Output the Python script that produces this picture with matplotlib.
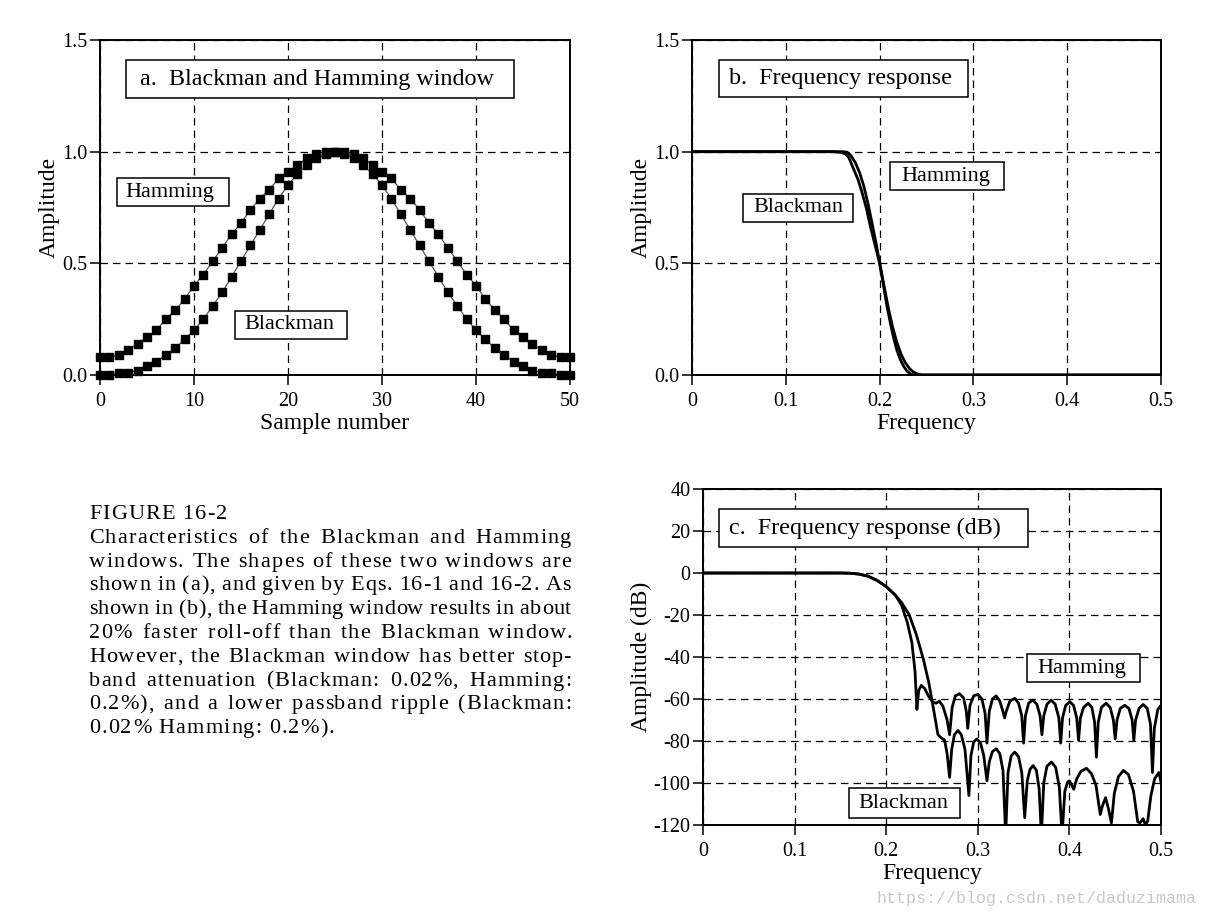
import numpy as np
import matplotlib
matplotlib.use("Agg")
import matplotlib.pyplot as plt
from matplotlib.patches import Rectangle

plt.rcParams['font.family'] = ['Liberation Serif', 'DejaVu Serif']
plt.rcParams['axes.unicode_minus'] = False

W, H = 1206, 918

# ---- panel a: window samples ----
sample = list(range(51))
hamming_win = [0.08, 0.08, 0.09, 0.11, 0.14, 0.17, 0.20, 0.25, 0.29, 0.34,
               0.40, 0.45, 0.51, 0.57, 0.63, 0.68, 0.74, 0.79, 0.83, 0.88,
               0.91, 0.94, 0.97, 0.99, 1.00, 1.00, 1.00, 0.99, 0.97, 0.94,
               0.91, 0.88, 0.83, 0.79, 0.74, 0.68, 0.63, 0.57, 0.51, 0.45,
               0.40, 0.34, 0.29, 0.25, 0.20, 0.17, 0.14, 0.11, 0.09, 0.08,
               0.08]
blackman_win = [0.00, 0.00, 0.01, 0.01, 0.02, 0.04, 0.06, 0.09, 0.12, 0.16,
                0.20, 0.25, 0.31, 0.37, 0.44, 0.51, 0.58, 0.65, 0.72, 0.79,
                0.85, 0.90, 0.94, 0.97, 0.99, 1.00, 0.99, 0.97, 0.94, 0.90,
                0.85, 0.79, 0.72, 0.65, 0.58, 0.51, 0.44, 0.37, 0.31, 0.25,
                0.20, 0.16, 0.12, 0.09, 0.06, 0.04, 0.02, 0.01, 0.01, 0.00,
                0.00]

# ---- panel b: linear frequency response ----
blackman_f_lin = [0.0, 0.150, 0.156, 0.160, 0.1634, 0.167, 0.1723, 0.1770, 0.1812,
                  0.1860, 0.190, 0.195, 0.200, 0.2040, 0.2078, 0.2115, 0.2149,
                  0.2185, 0.222, 0.2255, 0.2291, 0.2330, 0.2362, 0.5]
blackman_lin = [1.0, 1.0, 0.998, 0.995, 0.99, 0.975, 0.922, 0.875, 0.818,
                0.745, 0.668, 0.585, 0.50, 0.405, 0.309, 0.232, 0.167,
                0.110, 0.070, 0.040, 0.018, 0.005, 0.0, 0.0]
hamming_f_lin = [0.0, 0.160, 0.165, 0.169, 0.174, 0.1785, 0.183, 0.1875, 0.1918,
                 0.196, 0.200, 0.2048, 0.2096, 0.2140, 0.2185, 0.2230, 0.2274,
                 0.2320, 0.2362, 0.2405, 0.2451, 0.5]
hamming_lin = [1.0, 1.0, 0.998, 0.985, 0.952, 0.908, 0.848, 0.770, 0.683,
               0.595, 0.504, 0.398, 0.294, 0.212, 0.145, 0.092, 0.055,
               0.028, 0.013, 0.004, 0.0, 0.0]

# ---- panel c: frequency response in dB ----
hamming_f_db = [0.000, 0.150, 0.160, 0.170, 0.180, 0.190, 0.200, 0.210, 0.217,
                0.223, 0.228, 0.2315, 0.2335, 0.2355, 0.2383, 0.242, 0.246,
                0.251, 0.2545, 0.258, 0.262, 0.2665, 0.2692, 0.272, 0.2755,
                0.280, 0.2845, 0.2875, 0.289, 0.2915, 0.2955, 0.300, 0.3045,
                0.308, 0.310, 0.3125, 0.316, 0.320, 0.324, 0.3275, 0.3293,
                0.331, 0.335, 0.3403, 0.3445, 0.348, 0.350, 0.352, 0.3555,
                0.360, 0.3645, 0.368, 0.370, 0.372, 0.3755, 0.380, 0.3845,
                0.3885, 0.3905, 0.3925, 0.396, 0.4004, 0.4045, 0.408, 0.410,
                0.412, 0.4155, 0.4204, 0.4245, 0.4275, 0.4295, 0.4315, 0.435,
                0.440, 0.4445, 0.448, 0.450, 0.452, 0.4555, 0.4605, 0.465,
                0.4685, 0.4703, 0.4723, 0.476, 0.4805, 0.485, 0.4885, 0.4907,
                0.4927, 0.4965, 0.500]
hamming_db = [0, 0, -0.1, -0.5, -1.5, -3.5, -6.5, -10.5, -15.5,
              -23.5, -33, -47, -65, -56, -53.5, -55, -58.5,
              -61.5, -62, -61, -63.5, -70, -77, -64, -58.5,
              -57.5, -59.5, -66, -74, -63, -58.5, -57.8, -60,
              -67, -81, -66, -60, -58.5, -61, -66, -69,
              -66, -61, -59.7, -62, -68, -81, -68, -62,
              -60.5, -62.5, -68, -77, -68, -62.5, -60.5, -62.5,
              -69, -81, -69, -63, -61.3, -63, -69, -79.7,
              -69, -64, -62, -64, -71, -87.7, -71, -64,
              -62, -64, -70, -79, -70, -64.5, -63, -64.5,
              -70, -79.7, -70, -64.5, -62.6, -64.5, -72, -95,
              -74, -65, -63]
blackman_f_db = [0.000, 0.150, 0.160, 0.170, 0.180, 0.190, 0.200, 0.2094, 0.217,
                 0.225, 0.2328, 0.2406, 0.2465, 0.2523, 0.2565, 0.260, 0.2637,
                 0.2665, 0.2692, 0.2715, 0.2745, 0.2783, 0.282, 0.286, 0.2903,
                 0.2925, 0.2955, 0.299, 0.303, 0.3065, 0.310, 0.3125, 0.316,
                 0.3202, 0.324, 0.3275, 0.3304, 0.333, 0.3365, 0.3403, 0.3445,
                 0.348, 0.3512, 0.354, 0.357, 0.3603, 0.364, 0.367, 0.3694,
                 0.372, 0.3755, 0.3803, 0.385, 0.389, 0.392, 0.395, 0.398,
                 0.400, 0.4025, 0.4047, 0.408, 0.4125, 0.4186, 0.424, 0.429,
                 0.4337, 0.436, 0.4395, 0.4425, 0.4459, 0.449, 0.4535, 0.459,
                 0.4645, 0.470, 0.4746, 0.477, 0.4805, 0.483, 0.4855, 0.489,
                 0.493, 0.4977, 0.500]
blackman_db = [0, 0, -0.1, -0.5, -1.5, -3.5, -6.5, -10.3, -14.2,
               -19.8, -29.2, -41.1, -52.2, -66.4, -77, -78.5, -79.5,
               -86, -97.3, -84, -77, -75, -77, -84, -106,
               -87, -80.5, -79, -81, -87, -99, -90, -85,
               -83.7, -86, -94, -125, -95, -87, -85.3, -87.5,
               -95, -116.5, -99, -93.5, -91.7, -94, -103, -125,
               -100, -92, -90, -92.5, -102, -125, -104, -99.5,
               -99, -101, -103, -98, -94.5, -93, -95.5, -101,
               -115, -111, -107, -112, -119, -105, -97, -94,
               -96, -104, -118.5, -119, -117, -120, -118, -106,
               -98, -95, -99.5]

caption_lines = [
    "FIGURE 16-2",
    "Characteristics of the Blackman and Hamming",
    "windows.  The shapes of these two windows are",
    "shown in (a), and given by Eqs. 16-1 and 16-2.  As",
    "shown in (b), the Hamming window results in about",
    "20% faster roll-off than the Blackman window.",
    "However, the Blackman window has better stop-",
    "band attenuation (Blackman: 0.02%, Hamming:",
    "0.2%), and a lower passband ripple (Blackman:",
    "0.02% Hamming: 0.2%).",
]


def fx(x):
    return x / W


def fy(y):
    return 1 - y / H


def axes_px(l, t, r, b):
    return [fx(l), fy(b), fx(r) - fx(l), fy(t) - fy(b)]


def style(ax, xlim, ylim, xticks, xlabels, yticks, ylabels):
    ax.set_xlim(*xlim)
    ax.set_ylim(*ylim)
    ax.set_xticks(xticks)
    ax.set_xticklabels(xlabels)
    ax.set_yticks(yticks)
    ax.set_yticklabels(ylabels)
    ax.tick_params(direction='out', length=7, width=1.1, labelsize=14.5,
                   colors='black')
    ax.tick_params(axis='x', pad=5)
    ax.tick_params(axis='y', pad=2)
    ax.grid(True, color='black', linestyle=(0, (6, 4)), linewidth=0.9)
    ax.set_axisbelow(True)
    for s in ax.spines.values():
        s.set_linewidth(1.4)


def label_box(fig, l, t, r, b, text, tx, size=16):
    fig.patches.append(Rectangle((fx(l), fy(b)), fx(r) - fx(l), fy(t) - fy(b),
                                 transform=fig.transFigure, fc='white', ec='black',
                                 lw=1.1, zorder=5))
    fig.text(fx(tx), fy((t + b) / 2), text, ha='left', va='center',
             fontsize=size, zorder=6)


fig = plt.figure(figsize=(W / 100, H / 100), dpi=100)

frac_ticks = [0, 0.1, 0.2, 0.3, 0.4, 0.5]
frac_labels = ['0', '0.1', '0.2', '0.3', '0.4', '0.5']
amp_ticks = [0, 0.5, 1.0, 1.5]
amp_labels = ['0.0', '0.5', '1.0', '1.5']

# a. windows
ax_a = fig.add_axes(axes_px(100, 40, 570, 375))
ax_a.plot(sample, hamming_win, color='#555555', lw=0.9, marker='s', ms=6,
          mfc='black', mec='black', clip_on=False, zorder=3)
ax_a.plot(sample, blackman_win, color='#555555', lw=0.9, marker='s', ms=6,
          mfc='black', mec='black', clip_on=False, zorder=3)
style(ax_a, (0, 50), (0, 1.5), [0, 10, 20, 30, 40, 50],
      ['0', '10', '20', '30', '40', '50'], amp_ticks, amp_labels)
ax_a.set_xlabel('Sample number', fontsize=17, labelpad=2)
ax_a.set_ylabel('Amplitude', fontsize=17, labelpad=2)

# b. linear frequency response
ax_b = fig.add_axes(axes_px(692, 40, 1161, 375))
ax_b.plot(blackman_f_lin, blackman_lin, color='black', lw=2)
ax_b.plot(hamming_f_lin, hamming_lin, color='black', lw=2)
style(ax_b, (0, 0.5), (0, 1.5), frac_ticks, frac_labels, amp_ticks, amp_labels)
ax_b.set_xlabel('Frequency', fontsize=17, labelpad=2)
ax_b.set_ylabel('Amplitude', fontsize=17, labelpad=2)

# c. dB frequency response
ax_c = fig.add_axes(axes_px(703, 489, 1161, 825))
ax_c.plot(hamming_f_db, hamming_db, color='black', lw=2)
ax_c.plot(blackman_f_db, blackman_db, color='black', lw=2)
db_ticks = [40, 20, 0, -20, -40, -60, -80, -100, -120]
style(ax_c, (0, 0.5), (-120, 40), frac_ticks, frac_labels,
      db_ticks, [str(v) for v in db_ticks])
ax_c.set_xlabel('Frequency', fontsize=17, labelpad=2)
ax_c.set_ylabel('Amplitude (dB)', fontsize=17, labelpad=1)

# label boxes
label_box(fig, 126, 60, 514, 98, 'a.  Blackman and Hamming window', 140, 17.4)
label_box(fig, 117, 178, 229, 206, 'Hamming', 125)
label_box(fig, 235, 311, 347, 339, 'Blackman', 244)
label_box(fig, 719, 60, 968, 97, 'b.  Frequency response', 729, 17.4)
label_box(fig, 743, 194, 853, 222, 'Blackman', 753)
label_box(fig, 890, 162, 1004, 190, 'Hamming', 901)
label_box(fig, 719, 509, 1028, 547, 'c.  Frequency response (dB)', 729, 17.4)
label_box(fig, 1027, 654, 1140, 682, 'Hamming', 1037)
label_box(fig, 849, 788, 960, 818, 'Blackman', 858)

# caption: letter-spaced words, justified between two margins
left, right = 89, 571
top_base, step = 519, 23.8
cap_size = 16
renderer = fig.canvas.get_renderer()


def text_width(s):
    t = fig.text(0, 0, s, fontsize=cap_size)
    w = t.get_window_extent(renderer).width
    t.remove()
    return w


for i, line in enumerate(caption_lines):
    y = fy(top_base + i * step)
    words = line.split()
    widths = [text_width(w) for w in words]
    letter_gaps = sum(len(w) - 1 for w in words)
    justify = 0 < i < len(caption_lines) - 1
    natural = sum(widths) + 4.0 * (len(words) - 1)
    spare = (right - left) - natural
    track = 1.2 if not justify else max(0.0, min(1.2, 0.5 * spare / letter_gaps))
    full = [wd + track * (len(w) - 1) for w, wd in zip(words, widths)]
    if justify:
        gap = (right - left - sum(full)) / (len(words) - 1)
    else:
        gap = text_width('a b') - text_width('ab') + 1.5
    x = left
    for w, wd in zip(words, full):
        for j, ch in enumerate(w):
            cx = x + (text_width(w[:j]) if j else 0) + track * j
            fig.text(fx(cx), y, ch, fontsize=cap_size, ha='left', va='baseline')
        x += wd + gap

fig.text(fx(876), fy(898), 'https://blog.csdn.net/daduzimama', fontsize=12,
         family='Liberation Mono', color='#c8c8c8', ha='left', va='center')

fig.savefig('out.png', dpi=100)
